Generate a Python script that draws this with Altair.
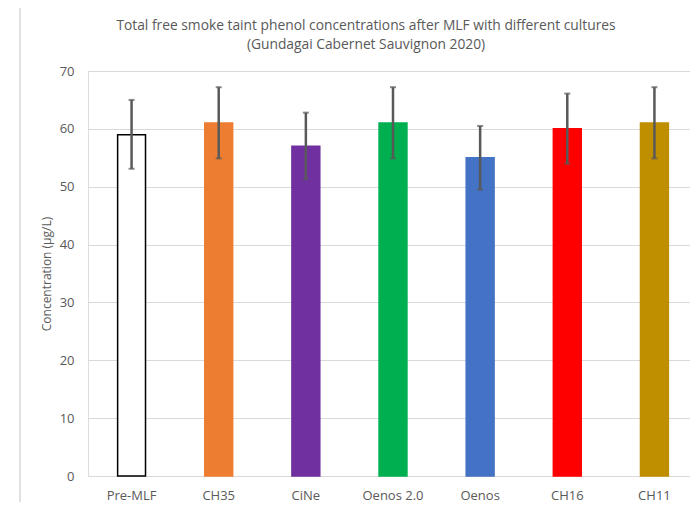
import altair as alt
import pandas as pd

cultures = ["Pre-MLF", "CH35", "CiNe", "Oenos 2.0", "Oenos", "CH16", "CH11"]
values = [59.0, 61.0, 57.0, 61.0, 55.0, 60.0, 61.0]
upper = [65.0, 67.2, 62.8, 67.2, 60.5, 66.1, 67.2]
lower = [53.1, 54.9, 51.3, 54.9, 49.5, 54.0, 54.9]
fills = ["#FFFFFF", "#ED7D31", "#7030A0", "#00B050", "#4472C4", "#FF0000", "#BF8F00"]
strokes = ["#000000", "#ED7D31", "#7030A0", "#00B050", "#4472C4", "#FF0000", "#BF8F00"]

df = pd.DataFrame({"culture": cultures, "value": values, "upper": upper, "lower": lower,
                   "fill": fills, "stroke": strokes})

FONT = "Open Sans"
GREY = "#595959"
FRAME = "#E0E0E0"

xscale = alt.Scale(paddingInner=0.68, paddingOuter=0.34, range=[0, 610])
x = alt.X("culture:N", sort=cultures, title=None, scale=xscale,
          axis=alt.Axis(labelAngle=0, labelFont=FONT, labelFontSize=13, labelColor=GREY,
                        ticks=False, domain=False, labelPadding=13))
y = alt.Y("value:Q", title="Concentration (µg/L)",
          scale=alt.Scale(domain=[0, 70], nice=False),
          axis=alt.Axis(values=[0, 10, 20, 30, 40, 50, 60, 70], labelFont=FONT, labelFontSize=13,
                        labelColor=GREY, ticks=False, domain=False, labelPadding=14,
                        gridColor="#D9D9D9", gridWidth=1, titleFont=FONT, titleFontSize=12,
                        titleFontWeight="normal", titleColor=GREY, titlePadding=6))

bars = alt.Chart(df).mark_bar(strokeWidth=1.5).encode(
    x=x, y=y,
    fill=alt.Fill("fill:N", scale=None),
    stroke=alt.Stroke("stroke:N", scale=None),
)

xe = alt.X("culture:N", sort=cultures, scale=xscale)
err = alt.Chart(df).mark_rule(color=GREY, strokeWidth=2.5).encode(
    x=xe, y="lower:Q", y2="upper:Q")
cap_top = alt.Chart(df).mark_tick(color=GREY, thickness=2, size=6, orient="horizontal").encode(
    x=xe, y="upper:Q")
cap_bot = alt.Chart(df).mark_tick(color=GREY, thickness=2, size=6, orient="horizontal").encode(
    x=xe, y="lower:Q")

# decorative chart-area frame (left and top edges)
frame_left = alt.Chart(df).mark_rule(color=FRAME, strokeWidth=1.5).encode(
    x=alt.value(-68), y=alt.value(-64), y2=alt.value(440))
frame_top = alt.Chart(df).mark_rule(color=FRAME, strokeWidth=1.5).encode(
    x=alt.value(-68), x2=alt.value(620), y=alt.value(-64))

chart = alt.layer(frame_left, frame_top, bars, err, cap_top, cap_bot).properties(
    width=602, height=405,
    autosize=alt.AutoSizeParams(type="none"),
    padding={"left": 80, "top": 63, "right": 0, "bottom": 26},
    title=alt.TitleParams(
        text=["Total free smoke taint phenol concentrations after MLF with different cultures",
              "(Gundagai Cabernet Sauvignon 2020)"],
        font=FONT, fontSize=13.8, fontWeight="normal", color=GREY, lineHeight=19,
        anchor="middle", dx=-23, dy=61, offset=15),
).configure_view(stroke=None).configure(background="white")

chart.save("out.html", embed_options={"renderer": "svg", "actions": False})
